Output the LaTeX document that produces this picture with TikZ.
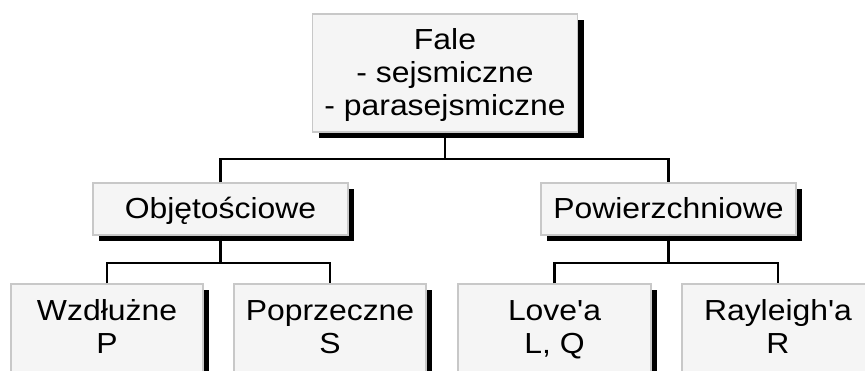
\documentclass[tikz,border=0pt]{standalone}
\usepackage{fontspec}
\setmainfont{Liberation Sans}[FakeStretch=1.1, Ligatures=TeXOff]
\usetikzlibrary{shadows}
\definecolor{boxfill}{HTML}{F5F5F5}
\definecolor{boxline}{HTML}{C8C8C8}
\tikzset{
  box/.style={rectangle, draw=boxline, line width=1.5pt, fill=boxfill, inner sep=0pt,
    drop shadow={shadow xshift=6pt, shadow yshift=-6pt, fill=black, opacity=1}},
  lbl/.style={inner sep=0pt, anchor=base, font=\fontsize{29}{33}\selectfont},
  conn/.style={draw=black, line width=2.5pt}
}
\newcommand{\twolines}[2]{\begin{tabular}[t]{@{}c@{}}#1\\#2\end{tabular}}
\newcommand{\threelines}[3]{\begin{tabular}[t]{@{}c@{}}#1\\#2\\#3\end{tabular}}
\begin{document}
\begin{tikzpicture}[x=1pt,y=-1pt]
\useasboundingbox (0,0) rectangle (865,370);
\clip (0,0) rectangle (865,370);
% boxes
\node[box, minimum width=265pt, minimum height=118pt] (fale) at (445,73) {};
\node[box, minimum width=255pt, minimum height=52pt] (obj) at (220.5,209) {};
\node[box, minimum width=255pt, minimum height=52pt] (pow) at (668.5,209) {};
\node[box, minimum width=192pt, minimum height=136pt] (wz) at (107,352) {};
\node[box, minimum width=192pt, minimum height=136pt] (pop) at (330,352) {};
\node[box, minimum width=193pt, minimum height=136pt] (love) at (554.5,352) {};
\node[box, minimum width=192pt, minimum height=136pt] (ray) at (778,352) {};
% bus coordinates
\coordinate (b1) at (445,159);
\coordinate (b2) at (220.5,263);
\coordinate (b3) at (668.5,263);
% connectors
\draw[conn] (fale.south) -- (b1);
\draw[conn] (obj.north) |- (b1) -| (pow.north);
\draw[conn] (obj.south) -- (b2);
\draw[conn] (wz.north) |- (b2) -| (pop.north);
\draw[conn] (pow.south) -- (b3);
\draw[conn] (love.north) |- (b3) -| (ray.north);
% labels
\node[lbl] (tfale) at (445,49) {\threelines{Fale}{- sejsmiczne}{- parasejsmiczne}};
\node[lbl] (tobj) at (220.5,218) {Objętościowe};
\node[lbl] (tpow) at (668.5,218) {Powierzchniowe};
\node[lbl] (twz) at (107,320) {\twolines{Wzdłużne}{P}};
\node[lbl] (tpop) at (330,320) {\twolines{Poprzeczne}{S}};
\node[lbl] (tlove) at (554.5,320) {\twolines{Love'a}{L, Q}};
\node[lbl] (tray) at (778,320) {\twolines{Rayleigh'a}{R}};
\end{tikzpicture}
\end{document}
